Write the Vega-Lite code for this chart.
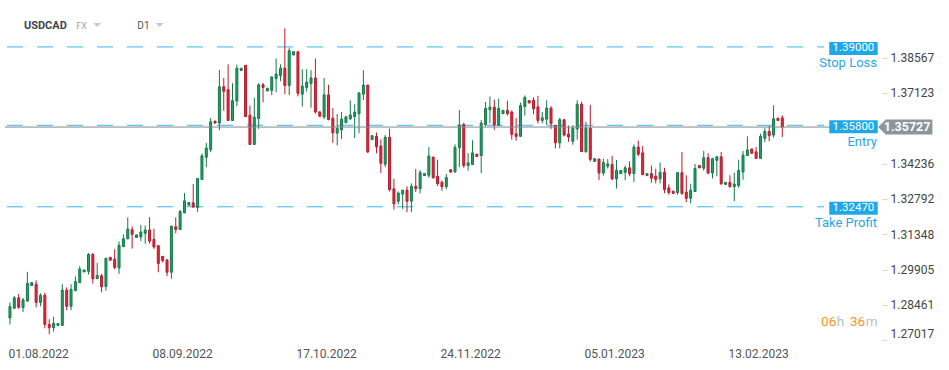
{
  "$schema": "https://vega.github.io/schema/vega-lite/v6.json",
  "width": 949,
  "height": 370,
  "padding": 0,
  "autosize": {"type": "none"},
  "background": "white",
  "config": {"view": {"stroke": null}, "font": "Roboto", "axis": {"grid": false, "domain": false}},
  "datasets": {
    "levels": [
      {"name": "Stop Loss", "price": 1.39, "label": "1.39000"},
      {"name": "Entry", "price": 1.358, "label": "1.35800"},
      {"name": "Take Profit", "price": 1.3247, "label": "1.32470"}
    ],
    "candles": [
      {"i":0,"o":1.27928,"h":1.28564,"l":1.27663,"c":1.28392},
      {"i":1,"o":1.28326,"h":1.28829,"l":1.28300,"c":1.28750},
      {"i":2,"o":1.28750,"h":1.28909,"l":1.28299,"c":1.28366},
      {"i":3,"o":1.28352,"h":1.28750,"l":1.28167,"c":1.28670},
      {"i":4,"o":1.28617,"h":1.29810,"l":1.28600,"c":1.29346},
      {"i":5,"o":1.29253,"h":1.29380,"l":1.29245,"c":1.29372},
      {"i":6,"o":1.29306,"h":1.29465,"l":1.28366,"c":1.28564},
      {"i":7,"o":1.28564,"h":1.28935,"l":1.28405,"c":1.28856},
      {"i":8,"o":1.28856,"h":1.28962,"l":1.27504,"c":1.27663},
      {"i":9,"o":1.27663,"h":1.27875,"l":1.27266,"c":1.27531},
      {"i":10,"o":1.27531,"h":1.27981,"l":1.27372,"c":1.27703},
      {"i":11,"o":1.27624,"h":1.27710,"l":1.27615,"c":1.27703},
      {"i":12,"o":1.27624,"h":1.29306,"l":1.27610,"c":1.29068},
      {"i":13,"o":1.29068,"h":1.29174,"l":1.28246,"c":1.28405},
      {"i":14,"o":1.28405,"h":1.29306,"l":1.28246,"c":1.29094},
      {"i":15,"o":1.29041,"h":1.29624,"l":1.29030,"c":1.29412},
      {"i":16,"o":1.29372,"h":1.30048,"l":1.29360,"c":1.29929},
      {"i":17,"o":1.29810,"h":1.29900,"l":1.29800,"c":1.29889},
      {"i":18,"o":1.29836,"h":1.30578,"l":1.29704,"c":1.30525},
      {"i":19,"o":1.30525,"h":1.30578,"l":1.29333,"c":1.29532},
      {"i":20,"o":1.29532,"h":1.30181,"l":1.29520,"c":1.29664},
      {"i":21,"o":1.29651,"h":1.29730,"l":1.28975,"c":1.29200},
      {"i":22,"o":1.29214,"h":1.30380,"l":1.29041,"c":1.30366},
      {"i":23,"o":1.30406,"h":1.30415,"l":1.30280,"c":1.30287},
      {"i":24,"o":1.30326,"h":1.30737,"l":1.29916,"c":1.29995},
      {"i":25,"o":1.29969,"h":1.31055,"l":1.29730,"c":1.30896},
      {"i":26,"o":1.30843,"h":1.31347,"l":1.30830,"c":1.31161},
      {"i":27,"o":1.31161,"h":1.32036,"l":1.31150,"c":1.31559},
      {"i":28,"o":1.31532,"h":1.31665,"l":1.30764,"c":1.31347},
      {"i":29,"o":1.31214,"h":1.31330,"l":1.31200,"c":1.31320},
      {"i":30,"o":1.31240,"h":1.31730,"l":1.31068,"c":1.31439},
      {"i":31,"o":1.31386,"h":1.31704,"l":1.30962,"c":1.31518},
      {"i":32,"o":1.31518,"h":1.32048,"l":1.30962,"c":1.31068},
      {"i":33,"o":1.31134,"h":1.31571,"l":1.30750,"c":1.30829},
      {"i":34,"o":1.30882,"h":1.30909,"l":1.29796,"c":1.30154},
      {"i":35,"o":1.30445,"h":1.30460,"l":1.30193,"c":1.30273},
      {"i":36,"o":1.30299,"h":1.30310,"l":1.29637,"c":1.29796},
      {"i":37,"o":1.29796,"h":1.31704,"l":1.29531,"c":1.31677},
      {"i":38,"o":1.31651,"h":1.32035,"l":1.31386,"c":1.31545},
      {"i":39,"o":1.31545,"h":1.32340,"l":1.31530,"c":1.32273},
      {"i":40,"o":1.32221,"h":1.33029,"l":1.32210,"c":1.32711},
      {"i":41,"o":1.32538,"h":1.32655,"l":1.32530,"c":1.32645},
      {"i":42,"o":1.32631,"h":1.33400,"l":1.32450,"c":1.32459},
      {"i":43,"o":1.32445,"h":1.33651,"l":1.32260,"c":1.33625},
      {"i":44,"o":1.33585,"h":1.34645,"l":1.33570,"c":1.34552},
      {"i":45,"o":1.34499,"h":1.35082,"l":1.34088,"c":1.34870},
      {"i":46,"o":1.34804,"h":1.36102,"l":1.34698,"c":1.35941},
      {"i":47,"o":1.35970,"h":1.35980,"l":1.35880,"c":1.35890},
      {"i":48,"o":1.35890,"h":1.38063,"l":1.35599,"c":1.37374},
      {"i":49,"o":1.37374,"h":1.37732,"l":1.36394,"c":1.37189},
      {"i":50,"o":1.37255,"h":1.38288,"l":1.35980,"c":1.35996},
      {"i":51,"o":1.35996,"h":1.37520,"l":1.35980,"c":1.36805},
      {"i":52,"o":1.36791,"h":1.38275,"l":1.36579,"c":1.38129},
      {"i":53,"o":1.38037,"h":1.38140,"l":1.38025,"c":1.38129},
      {"i":54,"o":1.38249,"h":1.38260,"l":1.36140,"c":1.36155},
      {"i":55,"o":1.36208,"h":1.36606,"l":1.35000,"c":1.35016},
      {"i":56,"o":1.35016,"h":1.36924,"l":1.35000,"c":1.36129},
      {"i":57,"o":1.36076,"h":1.37520,"l":1.35652,"c":1.37454},
      {"i":58,"o":1.37454,"h":1.37533,"l":1.36738,"c":1.37348},
      {"i":59,"o":1.37202,"h":1.37335,"l":1.37190,"c":1.37308},
      {"i":60,"o":1.37229,"h":1.37798,"l":1.37030,"c":1.37772},
      {"i":61,"o":1.37706,"h":1.38527,"l":1.37149,"c":1.37891},
      {"i":62,"o":1.37825,"h":1.38289,"l":1.37600,"c":1.38130},
      {"i":63,"o":1.38130,"h":1.39759,"l":1.37070,"c":1.37427},
      {"i":64,"o":1.37427,"h":1.38964,"l":1.37030,"c":1.38845},
      {"i":65,"o":1.38673,"h":1.38815,"l":1.38660,"c":1.38805},
      {"i":66,"o":1.38805,"h":1.38815,"l":1.36977,"c":1.37109},
      {"i":67,"o":1.37070,"h":1.38090,"l":1.36566,"c":1.37401},
      {"i":68,"o":1.37348,"h":1.38090,"l":1.37176,"c":1.37560},
      {"i":69,"o":1.37507,"h":1.38050,"l":1.36513,"c":1.37732},
      {"i":70,"o":1.37732,"h":1.38527,"l":1.36275,"c":1.36341},
      {"i":71,"o":1.36341,"h":1.36381,"l":1.36160,"c":1.36169},
      {"i":72,"o":1.36142,"h":1.37732,"l":1.36050,"c":1.37043},
      {"i":73,"o":1.37043,"h":1.37454,"l":1.35997,"c":1.36036},
      {"i":74,"o":1.36089,"h":1.36500,"l":1.35082,"c":1.35493},
      {"i":75,"o":1.35480,"h":1.36262,"l":1.34976,"c":1.35665},
      {"i":76,"o":1.35612,"h":1.36341,"l":1.35241,"c":1.36050},
      {"i":77,"o":1.35904,"h":1.36195,"l":1.35890,"c":1.36142},
      {"i":78,"o":1.36063,"h":1.36818,"l":1.36010,"c":1.36222},
      {"i":79,"o":1.36155,"h":1.36659,"l":1.35281,"c":1.36341},
      {"i":80,"o":1.36275,"h":1.37136,"l":1.35480,"c":1.37123},
      {"i":81,"o":1.37070,"h":1.38050,"l":1.36831,"c":1.37441},
      {"i":82,"o":1.37441,"h":1.37454,"l":1.34672,"c":1.34711},
      {"i":83,"o":1.35215,"h":1.35385,"l":1.35200,"c":1.35374},
      {"i":84,"o":1.35347,"h":1.35506,"l":1.34658,"c":1.34923},
      {"i":85,"o":1.34950,"h":1.35228,"l":1.33850,"c":1.34248},
      {"i":86,"o":1.34208,"h":1.35400,"l":1.34089,"c":1.35308},
      {"i":87,"o":1.35308,"h":1.35665,"l":1.33095,"c":1.33175},
      {"i":88,"o":1.33201,"h":1.33612,"l":1.32353,"c":1.32592},
      {"i":89,"o":1.32698,"h":1.33095,"l":1.32565,"c":1.33029},
      {"i":90,"o":1.32989,"h":1.33160,"l":1.32380,"c":1.33148},
      {"i":91,"o":1.33148,"h":1.33307,"l":1.32248,"c":1.32698},
      {"i":92,"o":1.32698,"h":1.33427,"l":1.32248,"c":1.33307},
      {"i":93,"o":1.33307,"h":1.34016,"l":1.33069,"c":1.33215},
      {"i":94,"o":1.33215,"h":1.33970,"l":1.33016,"c":1.33864},
      {"i":95,"o":1.33745,"h":1.33835,"l":1.33735,"c":1.33824},
      {"i":96,"o":1.33758,"h":1.34910,"l":1.33652,"c":1.34540},
      {"i":97,"o":1.34500,"h":1.34513,"l":1.33625,"c":1.33652},
      {"i":98,"o":1.33718,"h":1.34394,"l":1.33321,"c":1.33413},
      {"i":99,"o":1.33466,"h":1.33546,"l":1.33122,"c":1.33294},
      {"i":100,"o":1.33294,"h":1.33811,"l":1.33188,"c":1.33665},
      {"i":101,"o":1.33983,"h":1.33995,"l":1.33851,"c":1.33890},
      {"i":102,"o":1.33890,"h":1.35016,"l":1.33880,"c":1.34897},
      {"i":103,"o":1.34884,"h":1.36421,"l":1.34089,"c":1.35811},
      {"i":104,"o":1.35825,"h":1.35904,"l":1.34063,"c":1.34155},
      {"i":105,"o":1.34155,"h":1.34659,"l":1.33943,"c":1.34261},
      {"i":106,"o":1.34195,"h":1.35189,"l":1.34185,"c":1.34672},
      {"i":107,"o":1.34619,"h":1.34630,"l":1.34515,"c":1.34526},
      {"i":108,"o":1.34566,"h":1.36010,"l":1.33851,"c":1.35891},
      {"i":109,"o":1.35825,"h":1.36752,"l":1.35745,"c":1.36487},
      {"i":110,"o":1.36434,"h":1.36977,"l":1.35878,"c":1.36540},
      {"i":111,"o":1.36540,"h":1.36845,"l":1.35613,"c":1.35825},
      {"i":112,"o":1.35798,"h":1.36885,"l":1.35785,"c":1.36487},
      {"i":113,"o":1.36275,"h":1.36420,"l":1.36265,"c":1.36408},
      {"i":114,"o":1.36408,"h":1.36805,"l":1.36196,"c":1.36275},
      {"i":115,"o":1.36341,"h":1.36408,"l":1.35215,"c":1.35427},
      {"i":116,"o":1.35454,"h":1.36090,"l":1.35175,"c":1.35348},
      {"i":117,"o":1.35348,"h":1.36726,"l":1.35335,"c":1.36606},
      {"i":118,"o":1.36567,"h":1.37017,"l":1.36196,"c":1.36938},
      {"i":119,"o":1.36805,"h":1.36815,"l":1.36700,"c":1.36712},
      {"i":120,"o":1.36818,"h":1.36937,"l":1.36248,"c":1.36474},
      {"i":121,"o":1.36553,"h":1.37003,"l":1.35877,"c":1.35997},
      {"i":122,"o":1.35997,"h":1.36341,"l":1.35877,"c":1.36103},
      {"i":123,"o":1.36050,"h":1.36818,"l":1.35811,"c":1.36500},
      {"i":124,"o":1.36500,"h":1.36580,"l":1.35652,"c":1.35877},
      {"i":125,"o":1.35785,"h":1.35811,"l":1.34857,"c":1.35082},
      {"i":126,"o":1.35082,"h":1.36103,"l":1.34857,"c":1.36023},
      {"i":127,"o":1.36023,"h":1.36050,"l":1.35347,"c":1.35400},
      {"i":128,"o":1.35440,"h":1.35785,"l":1.35122,"c":1.35321},
      {"i":129,"o":1.35149,"h":1.35811,"l":1.35003,"c":1.35679},
      {"i":130,"o":1.35652,"h":1.36818,"l":1.35215,"c":1.36659},
      {"i":131,"o":1.36659,"h":1.36765,"l":1.34710,"c":1.34725},
      {"i":132,"o":1.34725,"h":1.35944,"l":1.34672,"c":1.35679},
      {"i":133,"o":1.35679,"h":1.36633,"l":1.34327,"c":1.34407},
      {"i":134,"o":1.34327,"h":1.34445,"l":1.34315,"c":1.34433},
      {"i":135,"o":1.34420,"h":1.34430,"l":1.33559,"c":1.33850},
      {"i":136,"o":1.33850,"h":1.34433,"l":1.33744,"c":1.34274},
      {"i":137,"o":1.34129,"h":1.34420,"l":1.34036,"c":1.34221},
      {"i":138,"o":1.34195,"h":1.34552,"l":1.33559,"c":1.33612},
      {"i":139,"o":1.33612,"h":1.34380,"l":1.33214,"c":1.33956},
      {"i":140,"o":1.33824,"h":1.33970,"l":1.33810,"c":1.33956},
      {"i":141,"o":1.33877,"h":1.34155,"l":1.33559,"c":1.34062},
      {"i":142,"o":1.34062,"h":1.34327,"l":1.33718,"c":1.33824},
      {"i":143,"o":1.33824,"h":1.35016,"l":1.33479,"c":1.34910},
      {"i":144,"o":1.34910,"h":1.35175,"l":1.34539,"c":1.34619},
      {"i":145,"o":1.34672,"h":1.34950,"l":1.33758,"c":1.33784},
      {"i":146,"o":1.33744,"h":1.33835,"l":1.33735,"c":1.33824},
      {"i":147,"o":1.33824,"h":1.34155,"l":1.33453,"c":1.33638},
      {"i":148,"o":1.33718,"h":1.34023,"l":1.33426,"c":1.33585},
      {"i":149,"o":1.33612,"h":1.34274,"l":1.33426,"c":1.33877},
      {"i":150,"o":1.33877,"h":1.34062,"l":1.33029,"c":1.33175},
      {"i":151,"o":1.33241,"h":1.33386,"l":1.32962,"c":1.33055},
      {"i":152,"o":1.33108,"h":1.33120,"l":1.33005,"c":1.33015},
      {"i":153,"o":1.33055,"h":1.33875,"l":1.32962,"c":1.33863},
      {"i":154,"o":1.33863,"h":1.34711,"l":1.32962,"c":1.33015},
      {"i":155,"o":1.33068,"h":1.33757,"l":1.32658,"c":1.32817},
      {"i":156,"o":1.32817,"h":1.33413,"l":1.32605,"c":1.33148},
      {"i":157,"o":1.33095,"h":1.34221,"l":1.33080,"c":1.34035},
      {"i":158,"o":1.34155,"h":1.34165,"l":1.34050,"c":1.34062},
      {"i":159,"o":1.34049,"h":1.34751,"l":1.33943,"c":1.34473},
      {"i":160,"o":1.34473,"h":1.34658,"l":1.33797,"c":1.33850},
      {"i":161,"o":1.33850,"h":1.34473,"l":1.33625,"c":1.34433},
      {"i":162,"o":1.34367,"h":1.34539,"l":1.33718,"c":1.34512},
      {"i":163,"o":1.34512,"h":1.34711,"l":1.33360,"c":1.33413},
      {"i":164,"o":1.33386,"h":1.33480,"l":1.33375,"c":1.33466},
      {"i":165,"o":1.33466,"h":1.33757,"l":1.33254,"c":1.33294},
      {"i":166,"o":1.33294,"h":1.33863,"l":1.32697,"c":1.33399},
      {"i":167,"o":1.33333,"h":1.34393,"l":1.33254,"c":1.33956},
      {"i":168,"o":1.33890,"h":1.34751,"l":1.33572,"c":1.34579},
      {"i":169,"o":1.34566,"h":1.35347,"l":1.34550,"c":1.34791},
      {"i":170,"o":1.34830,"h":1.34845,"l":1.34645,"c":1.34658},
      {"i":171,"o":1.34711,"h":1.34910,"l":1.34420,"c":1.34446},
      {"i":172,"o":1.34446,"h":1.35453,"l":1.34430,"c":1.35347},
      {"i":173,"o":1.35268,"h":1.35678,"l":1.35109,"c":1.35546},
      {"i":174,"o":1.35546,"h":1.35771,"l":1.35148,"c":1.35374},
      {"i":175,"o":1.35400,"h":1.36619,"l":1.35294,"c":1.36063},
      {"i":176,"o":1.36089,"h":1.36100,"l":1.35985,"c":1.35996},
      {"i":177,"o":1.36102,"h":1.36208,"l":1.35321,"c":1.35727}
    ]
  },
  "layer": [
    {
      "data": {"name": "levels"},
      "mark": {"type": "rule", "color": "#3ab5ee", "strokeWidth": 1, "strokeDash": [16, 14], "strokeDashOffset": 28},
      "encoding": {
        "x": {"datum": -1.134, "type": "quantitative",
          "scale": {"domain": [-1.134, 214.06], "nice": false, "zero": false},
          "axis": {"orient": "bottom", "offset": -27, "title": null, "values": [0, 33, 66, 99, 132, 165],
            "labelExpr": "datum.value == 0 ? '01.08.2022' : datum.value == 33 ? '08.09.2022' : datum.value == 66 ? '17.10.2022' : datum.value == 99 ? '24.11.2022' : datum.value == 132 ? '05.01.2023' : '13.02.2023'",
            "labelAlign": "left", "labelBaseline": "middle", "labelOffset": -2, "labelPadding": -6, "labelFlush": false,
            "tickSize": 16, "tickColor": "#ececec", "labelColor": "#555555", "labelFontSize": 12, "labelFont": "Roboto"}},
        "x2": {"datum": 186.6},
        "y": {"field": "price", "type": "quantitative",
          "scale": {"domain": [1.26007, 1.40713], "nice": false, "zero": false},
          "axis": {"orient": "right", "offset": -67, "title": null,
            "values": [1.27017, 1.28461, 1.29905, 1.31348, 1.32792, 1.34236, 1.37123, 1.38567],
            "format": ".5f", "tickSize": 5, "tickColor": "#d6d6d6", "labelPadding": 3, "labelFlush": 30,
            "labelColor": "#444444", "labelFontSize": 12, "labelFont": "Roboto"}}
      }
    },
    {
      "data": {"name": "candles"},
      "mark": {"type": "rule", "strokeWidth": 1},
      "encoding": {
        "x": {"field": "i", "type": "quantitative"},
        "y": {"field": "l", "type": "quantitative"},
        "y2": {"field": "h"},
        "color": {"condition": {"test": "datum.c >= datum.o", "value": "#137a4a"}, "value": "#b71a2c"}
      }
    },
    {
      "data": {"name": "candles"},
      "mark": {"type": "bar", "size": 2, "strokeWidth": 1},
      "encoding": {
        "x": {"field": "i", "type": "quantitative"},
        "y": {"field": "o", "type": "quantitative"},
        "y2": {"field": "c"},
        "fill": {"condition": {"test": "datum.c >= datum.o", "value": "#22a066"}, "value": "#e2293d"},
        "stroke": {"condition": {"test": "datum.c >= datum.o", "value": "#137a4a"}, "value": "#b71a2c"}
      }
    },
    {
      "data": {"values": [{}]},
      "mark": {"type": "rule", "color": "#7f8990", "strokeWidth": 1},
      "encoding": {"x": {"datum": -1.134}, "x2": {"datum": 198.9}, "y": {"datum": 1.35727}}
    },
    {
      "data": {"name": "levels"},
      "mark": {"type": "bar", "size": 13, "color": "#1fa8e8", "yOffset": 1.5},
      "encoding": {"x": {"datum": 187.76}, "x2": {"datum": 198.87}, "y": {"field": "price", "type": "quantitative"}}
    },
    {
      "data": {"name": "levels"},
      "mark": {"type": "text", "color": "white", "fontSize": 11.5, "align": "center", "baseline": "middle", "dy": 1.5},
      "encoding": {"x": {"datum": 193.3}, "y": {"field": "price", "type": "quantitative"}, "text": {"field": "label"}}
    },
    {
      "data": {"name": "levels"},
      "mark": {"type": "text", "color": "#1fa8e8", "fontSize": 13, "align": "right", "baseline": "middle", "dy": 16.5},
      "encoding": {"x": {"datum": 198.7}, "y": {"field": "price", "type": "quantitative"}, "text": {"field": "name"}}
    },
    {
      "data": {"values": [{}]},
      "mark": {"type": "bar", "size": 15, "color": "#8b959c"},
      "encoding": {"x": {"datum": 200.6}, "x2": {"datum": 211.4}, "y": {"datum": 1.35727}}
    },
    {
      "data": {"values": [{}]},
      "mark": {"type": "point", "shape": "M 0 0 L 1 -1 L 1 1 Z", "size": 225, "filled": true, "color": "#8b959c", "opacity": 1},
      "encoding": {"x": {"datum": 198.98}, "y": {"datum": 1.35727}}
    },
    {
      "data": {"values": [{}]},
      "mark": {"type": "text", "text": "1.35727", "color": "white", "fontWeight": "bold", "fontSize": 12.5, "align": "center", "baseline": "middle"},
      "encoding": {"x": {"datum": 205.6}, "y": {"datum": 1.35727}}
    },
    {
      "data": {"values": [{}]},
      "mark": {"type": "text", "text": "USDCAD", "color": "#3c4650", "fontWeight": "bold", "fontSize": 11, "align": "left", "baseline": "middle"},
      "encoding": {"x": {"datum": 3.2}, "y": {"datum": 1.39859}}
    },
    {
      "data": {"values": [{}]},
      "mark": {"type": "text", "text": "FX", "color": "#9aa4ad", "fontSize": 9, "align": "left", "baseline": "middle"},
      "encoding": {"x": {"datum": 15.2}, "y": {"datum": 1.39839}}
    },
    {
      "data": {"values": [{}]},
      "mark": {"type": "text", "text": "D1", "color": "#555555", "fontSize": 10, "align": "left", "baseline": "middle"},
      "encoding": {"x": {"datum": 29.2}, "y": {"datum": 1.39859}}
    },
    {
      "data": {"values": [{"k": 20.0}, {"k": 34.3}]},
      "mark": {"type": "point", "shape": "M -1 -0.5 L 1 -0.5 L 0 0.5 Z", "size": 64, "filled": true, "color": "#c5cad0", "opacity": 1},
      "encoding": {"x": {"field": "k", "type": "quantitative"}, "y": {"datum": 1.39899}}
    },
    {
      "data": {"values": [{}]},
      "mark": {"type": "text", "text": "06", "color": "#f7941d", "fontSize": 13.5, "align": "left", "baseline": "middle"},
      "encoding": {"x": {"datum": 185.9}, "y": {"datum": 1.27756}}
    },
    {
      "data": {"values": [{}]},
      "mark": {"type": "text", "text": "h", "color": "#b9bec3", "fontSize": 13.5, "align": "left", "baseline": "middle"},
      "encoding": {"x": {"datum": 189.5}, "y": {"datum": 1.27756}}
    },
    {
      "data": {"values": [{}]},
      "mark": {"type": "text", "text": "36", "color": "#f7941d", "fontSize": 13.5, "align": "left", "baseline": "middle"},
      "encoding": {"x": {"datum": 192.5}, "y": {"datum": 1.27756}}
    },
    {
      "data": {"values": [{}]},
      "mark": {"type": "text", "text": "m", "color": "#b9bec3", "fontSize": 13.5, "align": "left", "baseline": "middle"},
      "encoding": {"x": {"datum": 196.1}, "y": {"datum": 1.27756}}
    }
  ]
}
